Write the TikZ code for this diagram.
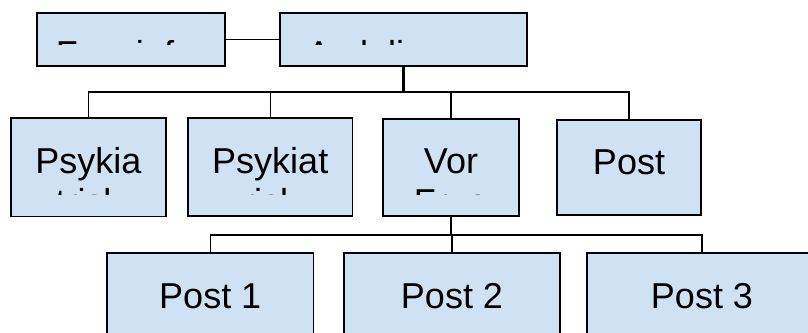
\documentclass[tikz,border=0pt]{standalone}
\usepackage{fontspec}
\setmainfont{Liberation Sans}
\definecolor{boxfill}{HTML}{CFE2F3}
\tikzset{
  orgbox/.style={draw=black, line width=1.6pt, fill=boxfill, rectangle,
                 inner sep=0pt, outer sep=0pt, anchor=north west},
  lbl/.style={anchor=base, inner sep=0pt, text=black,
              font=\fontsize{36pt}{41.4pt}\selectfont},
  wire/.style={draw=black, line width=1.4pt},
  trunk/.style={draw=black, line width=2.6pt},
}
% text area of a box: the box inset by its padding; text outside it is cut off
\newcommand\boxinner[1]{\clip ([shift={(20pt,-20pt)}]#1.north west) rectangle ([shift={(-20pt,22pt)}]#1.south east);}
\begin{document}
\begin{tikzpicture}[x=1pt,y=-1pt]
\useasboundingbox (0,0) rectangle (808,332);
\clip (0,0) rectangle (808,332);

% boxes
\node[orgbox, minimum width=188pt, minimum height=53pt] (fag) at (37,13) {};
\node[orgbox, minimum width=247pt, minimum height=53pt] (avd) at (280,13) {};

\node[orgbox, minimum width=155pt, minimum height=98.5pt] (ps1) at (11,118) {};
\node[orgbox, minimum width=164.5pt, minimum height=98pt] (ps2) at (188,118) {};
\node[orgbox, minimum width=136pt, minimum height=97pt] (vor) at (383,119) {};
\node[orgbox, minimum width=144pt, minimum height=95pt] (pst) at (557,120) {};

\node[orgbox, minimum width=206.5pt, minimum height=100pt] (p1) at (107,253) {};
\node[orgbox, minimum width=216pt, minimum height=100pt] (p2) at (344,253) {};
\node[orgbox, minimum width=230pt, minimum height=100pt] (p3) at (587,253) {};

% connectors
\coordinate (bus1) at (403.5,92);
\coordinate (bus2) at (451,235);
\draw[wire] (fag.east) -- (avd.west);
\draw[trunk] (avd.south) -- (bus1);
\draw[wire] (bus1) -| (ps1.north);
\draw[wire] (bus1) -| (ps2.north);
\draw[wire] (bus1) -| (vor.north);
\draw[wire] (bus1) -| (pst.north);
\draw[wire] (vor.south) -- (bus2);
\draw[wire] (bus2) -| (p1.north);
\draw[wire] (bus2) -| (p2.north);
\draw[wire] (bus2) -| (p3.north);

% labels, each cut to its box's text area
\begin{scope}\boxinner{fag}
  \node[lbl] (fagt) at ([yshift=-53pt]fag.north) {Fagsjefer};
\end{scope}
\begin{scope}\boxinner{avd}
  \node[lbl] (avdt) at ([yshift=-53pt]avd.north) {Avdelingsov};
\end{scope}
\begin{scope}\boxinner{ps1}
  \node[lbl] (ps1a) at ([yshift=-55pt]ps1.north) {Psykia};
  \node[lbl] (ps1b) at ([yshift=-96.4pt]ps1.north) {trisk};
\end{scope}
\begin{scope}\boxinner{ps2}
  \node[lbl] (ps2a) at ([yshift=-55pt]ps2.north) {Psykiat};
  \node[lbl] (ps2b) at ([yshift=-96.4pt]ps2.north) {risk};
\end{scope}
\begin{scope}\boxinner{vor}
  \node[lbl] (vora) at ([yshift=-54.5pt]vor.north) {Vor};
  \node[lbl] (vorb) at ([yshift=-95.9pt]vor.north) {Frue};
\end{scope}
\begin{scope}\boxinner{pst}
  \node[lbl] (psta) at ([yshift=-54.3pt]pst.north) {Post};
\end{scope}
\node[lbl] (p1t) at ([yshift=-55.3pt]p1.north) {Post 1};
\node[lbl] (p2t) at ([yshift=-55.3pt]p2.north) {Post 2};
\node[lbl] (p3t) at ([yshift=-55.3pt]p3.north) {Post 3};
\end{tikzpicture}
\end{document}
